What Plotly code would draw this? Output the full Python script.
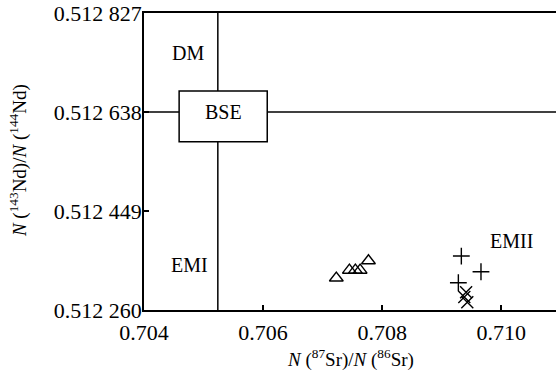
import plotly.graph_objects as go

# Data
tri_x = [0.70723, 0.70745, 0.70755, 0.70763, 0.70777]
tri_y = [0.512321, 0.512336, 0.512336, 0.512336, 0.512354]
plus_x = [0.70933, 0.70966, 0.70928]
plus_y = [0.512363, 0.512333, 0.512312]
cross_x = [0.70941, 0.70938, 0.70943]
cross_y = [0.512294, 0.512285, 0.512275]

x_ticks = [0.704, 0.706, 0.708, 0.710]
x_ticktext = ["0.704", "0.706", "0.708", "0.710"]
y_ticks = [0.512260, 0.512449, 0.512638, 0.512827]
y_ticktext = ["0.512 260", "0.512 449", "0.512 638", "0.512 827"]

bse_x = 0.70524
bse_y = 0.512638
bse_box = dict(x0=0.70459, x1=0.70607, y0=0.512581, y1=0.512678)

region_labels = ["DM", "EMI", "EMII"]
region_x = [0.70474, 0.70477, 0.71017]
region_y = [0.512751, 0.512346, 0.512392]

FONT = "Liberation Serif, Times New Roman, serif"

fig = go.Figure()
mk = dict(color="black", size=12, line=dict(color="black", width=1.4))
fig.add_trace(go.Scatter(x=tri_x, y=tri_y, mode="markers",
                         marker=dict(symbol="triangle-up-open", **mk)))
fig.add_trace(go.Scatter(x=plus_x, y=plus_y, mode="markers",
                         marker=dict(symbol="cross-thin-open", **mk)))
fig.add_trace(go.Scatter(x=cross_x, y=cross_y, mode="markers",
                         marker=dict(symbol="x-thin-open", **mk)))

xmin, xmax = 0.704, 0.71092
ymin, ymax = 0.512260, 0.512827

fig.add_shape(type="line", x0=bse_x, x1=bse_x, y0=ymin, y1=ymax,
              line=dict(color="black", width=1.5), layer="above")
fig.add_shape(type="line", x0=xmin, x1=xmax, y0=bse_y, y1=bse_y,
              line=dict(color="black", width=1.5), layer="above")
fig.add_shape(type="rect", **bse_box, fillcolor="white",
              line=dict(color="black", width=1.5), layer="above")

fig.add_annotation(x=(bse_box["x0"] + bse_box["x1"]) / 2, y=bse_y, text="BSE",
                   showarrow=False, font=dict(family=FONT, size=20, color="black"))
for t, x, y in zip(region_labels, region_x, region_y):
    fig.add_annotation(x=x, y=y, text=t, showarrow=False,
                       font=dict(family=FONT, size=20, color="black"))

fig.add_annotation(xref="paper", yref="paper", x=0.502, y=-0.162,
                   xanchor="center", yanchor="middle",
                   text="<i>N</i> (<sup>87</sup>Sr)/<i>N</i> (<sup>86</sup>Sr)",
                   showarrow=False, font=dict(family=FONT, size=19, color="black"))
fig.add_annotation(xref="paper", yref="paper", x=-0.303, y=0.502,
                   xanchor="center", yanchor="middle",
                   text="<i>N</i> (<sup>143</sup>Nd)/<i>N</i> (<sup>144</sup>Nd)",
                   textangle=-90, showarrow=False,
                   font=dict(family=FONT, size=19, color="black"))

fig.update_layout(
    width=556, height=376,
    margin=dict(l=144, r=0, t=13, b=66, autoexpand=False),
    paper_bgcolor="white", plot_bgcolor="white",
    showlegend=False,
    font=dict(family=FONT, size=22, color="black"),
    xaxis=dict(range=[xmin, xmax], tickvals=x_ticks, ticktext=x_ticktext,
               ticks="inside", ticklen=5, tickwidth=1.5, tickcolor="black",
               showgrid=False, zeroline=False, showline=True, linecolor="black",
               linewidth=1.5, mirror=True, ticklabelstandoff=2, automargin=False,
               ticklabeloverflow="allow", tickfont=dict(size=22)),
    yaxis=dict(range=[ymin, ymax], tickvals=y_ticks, ticktext=y_ticktext,
               ticks="inside", ticklen=5, tickwidth=1.5, tickcolor="black",
               showgrid=False, zeroline=False, showline=True, linecolor="black",
               linewidth=1.5, ticklabelstandoff=-4, automargin=False,
               ticklabeloverflow="allow", tickfont=dict(size=22)),
)

fig.write_html("out.html",
               config={"displayModeBar": False},
               post_script="document.body.style.margin='0';document.body.style.overflow='hidden';")
